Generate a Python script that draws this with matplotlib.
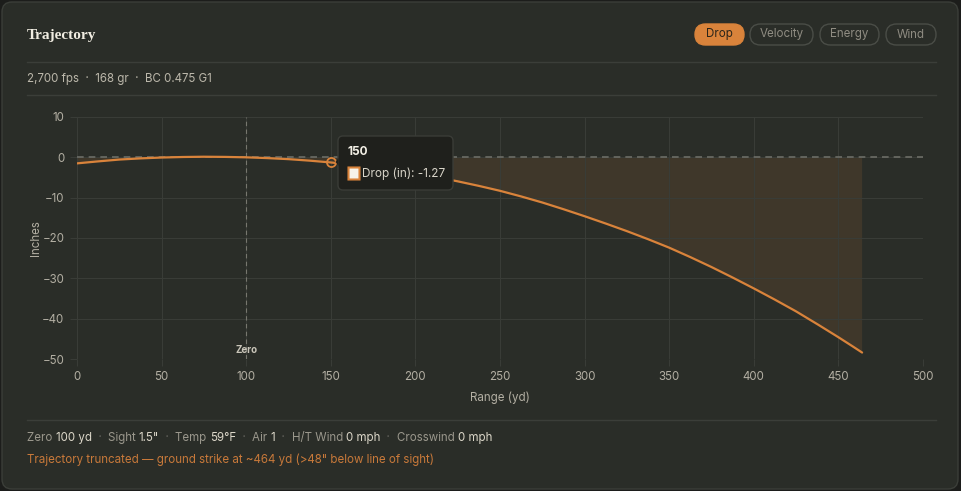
import matplotlib
matplotlib.use("Agg")
import matplotlib.pyplot as plt
from matplotlib.patches import FancyBboxPatch, Polygon, PathPatch
from matplotlib.path import Path
from matplotlib.lines import Line2D
from matplotlib.transforms import IdentityTransform

# ---- data ----
range_yd = [0, 25, 50, 75, 100, 125, 150, 175, 200, 225, 250, 275, 300,
            325, 350, 375, 400, 425, 450, 464]
drop_in = [-1.5, -0.55, -0.05, 0.15, 0.0, -0.45, -1.27, -2.45, -3.95, -5.95,
           -8.3, -11.2, -14.6, -18.3, -22.4, -27.2, -32.5, -38.2, -44.6, -48.4]
x_ticks = [0, 50, 100, 150, 200, 250, 300, 350, 400, 450, 500]
y_ticks = [10, 0, -10, -20, -30, -40, -50]
zero_range = 100
hover_idx = 6
tabs = ["Drop", "Velocity", "Energy", "Wind"]
subtitle = "2,700 fps  ·  168 gr  ·  BC 0.475 G1"
footer = [("Zero ", "lab"), ("100 yd", "val"), ("  ·  ", "dot"),
          ("Sight ", "lab"), ('1.5"', "val"), ("  ·  ", "dot"),
          ("Temp ", "lab"), ("59°F", "val"), ("  ·  ", "dot"),
          ("Air ", "lab"), ("1", "val"), ("  ·  ", "dot"),
          ("H/T Wind ", "lab"), ("0 mph", "val"), ("  ·  ", "dot"),
          ("Crosswind ", "lab"), ("0 mph", "val")]
note = 'Trajectory truncated — ground strike at ~464 yd (>48" below line of sight)'

W, H = 961, 491
BG_OUT = "#1c1d1b"
CARD = "#2a2d28"
ORANGE = "#d9833b"
GRID = "#393c37"
TICK = "#b3afa3"
FS = 8.3

plt.rcParams["font.family"] = ["Inter", "DejaVu Sans"]

fig = plt.figure(figsize=(W / 100, H / 100), dpi=100, facecolor=BG_OUT)
PX = IdentityTransform()  # pixels, origin bottom-left


def fx(px):
    return px / W


def fy(py):
    return 1 - py / H


def box(x0, y0, x1, y1, r, **kw):
    # top-left pixel coords -> display box
    p = FancyBboxPatch((x0, H - y1), x1 - x0, y1 - y0,
                       boxstyle=f"round,pad=0,rounding_size={r}",
                       transform=PX, **kw)
    fig.patches.append(p)
    return p


def smooth_path(xs, ys, tension=0.4):
    # cubic bezier through the points (like a chart line with tension)
    verts = [(xs[0], ys[0])]
    codes = [Path.MOVETO]
    n = len(xs)
    for i in range(n - 1):
        x0, y0 = xs[max(i - 1, 0)], ys[max(i - 1, 0)]
        x1, y1 = xs[i], ys[i]
        x2, y2 = xs[i + 1], ys[i + 1]
        x3, y3 = xs[min(i + 2, n - 1)], ys[min(i + 2, n - 1)]
        k = tension / 2
        c1 = (x1 + (x2 - x0) * k / 1.0 * 0.5, y1 + (y2 - y0) * k / 1.0 * 0.5)
        c2 = (x2 - (x3 - x1) * k * 0.5, y2 - (y3 - y1) * k * 0.5)
        verts += [c1, c2, (x2, y2)]
        codes += [Path.CURVE4] * 3
    return verts, codes


# card
box(2, 2, 958, 489, 10, facecolor=CARD, edgecolor="#3b3e39", linewidth=1, zorder=-5)

# header
fig.text(fx(27), fy(35), "Trajectory", family=["Liberation Serif", "DejaVu Serif"],
         weight="bold", fontsize=11, color="#f1ede2", va="center", ha="left")
for py in (62, 95, 420):
    fig.add_artist(Line2D([fx(27), fx(936)], [fy(py), fy(py)], color="#3b3e39",
                          linewidth=1, transform=fig.transFigure))
fig.text(fx(27), fy(79), subtitle, fontsize=FS, color="#bcb8ab", va="center")

# tabs
tab_x = [(695, 744), (750, 813), (820, 879), (886, 936)]
for i, (name, (x0, x1)) in enumerate(zip(tabs, tab_x)):
    active = i == 0
    box(x0, 24, x1, 45, 10.5,
        facecolor=ORANGE if active else "none",
        edgecolor=ORANGE if active else "#4a4d47", linewidth=1)
    fig.text(fx((x0 + x1) / 2), fy(34.5), name, fontsize=FS, ha="center", va="center",
             color="#2a2419" if active else "#8f8c82")

# chart
ax = fig.add_axes([fx(77), fy(359), fx(923) - fx(77), (359 - 117) / H], zorder=1)
ax.set_facecolor("none")
ax.set_xlim(0, 500)
ax.set_ylim(-50, 10)
ax.set_xticks(x_ticks)
ax.set_yticks(y_ticks)
ax.grid(True, color=GRID, linewidth=0.8)
for s in ax.spines.values():
    s.set_visible(False)
ax.tick_params(colors=GRID, labelcolor=TICK, labelsize=FS, length=5, width=0.8,
               pad=4)
ax.set_xlabel("Range (yd)", fontsize=FS, color=TICK, labelpad=6)
ax.set_ylabel("Inches", fontsize=FS, color=TICK, labelpad=0)

verts, codes = smooth_path(range_yd, drop_in)
fill_verts = verts + [(range_yd[-1], 0), (range_yd[0], 0), verts[0]]
fill_codes = codes + [Path.LINETO, Path.LINETO, Path.CLOSEPOLY]
ax.add_patch(PathPatch(Path(fill_verts, fill_codes), facecolor=ORANGE, alpha=0.12,
                       linewidth=0, zorder=1))
ax.axhline(0, color="#6c6d66", linewidth=1.2, dashes=(4, 3), zorder=2)
ax.axvline(zero_range, color="#77776f", linewidth=0.8, dashes=(4, 3), zorder=2)
ax.text(zero_range, -47.8, "Zero", fontsize=7, weight="bold", color="#c9c5b9",
        ha="center", va="center", zorder=3)
ax.add_patch(PathPatch(Path(verts, codes), facecolor="none", edgecolor=ORANGE,
                       linewidth=1.6, capstyle="round", zorder=4))
ax.plot(range_yd[hover_idx], drop_in[hover_idx], "o", ms=6.5, mfc="none",
        mec=ORANGE, mew=1.3, zorder=5)

# tooltip
box(338, 136, 453, 190, 5, facecolor="#1f201c", edgecolor="#3a3c37",
    linewidth=1, zorder=10)
fig.patches.append(Polygon([(338.5, H - 158), (335.5, H - 162), (338.5, H - 166)],
                           closed=True, transform=PX, facecolor="#1f201c",
                           edgecolor="none", zorder=11))
fig.text(fx(347), fy(151.5), str(range_yd[hover_idx]), fontsize=8.5, weight="bold",
         color="#f3f0e6", va="center", zorder=12)
box(348.5, 167.5, 359.5, 179.5, 0, facecolor="#f7f3ea", edgecolor=ORANGE,
    linewidth=1.5, zorder=12)
fig.text(fx(362), fy(173.5), f"Drop (in): {drop_in[hover_idx]:.2f}", fontsize=8.5,
         color="#d9d5c9", va="center", zorder=12)

# footer
colors = {"lab": "#9a978c", "val": "#dcd7c9", "dot": "#66665f"}
renderer = fig.canvas.get_renderer()
x = fx(27)
for txt, kind in footer:
    t = fig.text(x, fy(438), txt, fontsize=FS, color=colors[kind], va="center")
    bb = t.get_window_extent(renderer=renderer)
    x += bb.width / W
fig.text(fx(27), fy(460), note, fontsize=FS, color="#c8793a", va="center")

fig.savefig("out.png", dpi=100, facecolor=BG_OUT)
